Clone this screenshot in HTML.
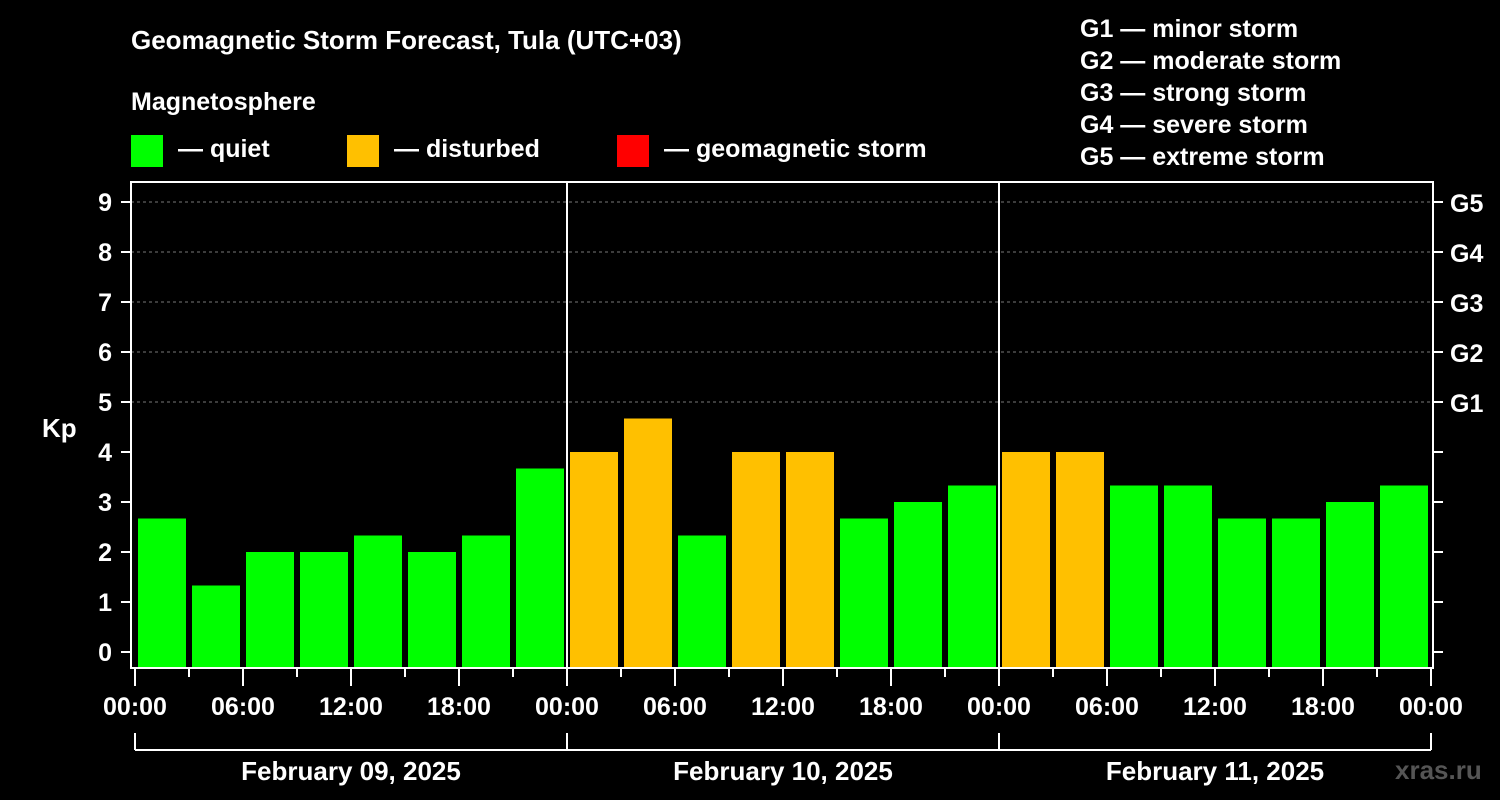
<!DOCTYPE html>
<html><head><meta charset="utf-8"><style>
body{margin:0;background:#000;width:1500px;height:800px;overflow:hidden}
svg{display:block}
text{font-family:"Liberation Sans",Arial,sans-serif;font-weight:bold;fill:#fff}
</style></head><body>
<svg id="c" width="1500" height="800">
<text x="131" y="49" font-size="26">Geomagnetic Storm Forecast, Tula (UTC+03)</text>
<text x="131" y="110" font-size="25">Magnetosphere</text>
<g><rect x="131" y="135" width="32" height="32" fill="#00ff00"/><text x="178" y="157" font-size="25">— quiet</text></g>
<g><rect x="347" y="135" width="32" height="32" fill="#ffc000"/><text x="394" y="157" font-size="25">— disturbed</text></g>
<g><rect x="617" y="135" width="32" height="32" fill="#ff0000"/><text x="664" y="157" font-size="25">— geomagnetic storm</text></g>
<g font-size="25">
<text x="1080" y="37">G1 — minor storm</text>
<text x="1080" y="69">G2 — moderate storm</text>
<text x="1080" y="101">G3 — strong storm</text>
<text x="1080" y="133">G4 — severe storm</text>
<text x="1080" y="165">G5 — extreme storm</text>
</g>
<text x="42" y="437" font-size="26">Kp</text>
<text x="1395" y="779" font-size="26" fill="#555" style="fill:#555">xras.ru</text>
<g id="g"></g>
</svg>
<script>
const kpValues=[2.67,1.33,2,2,2.33,2,2.33,3.67, 4,4.67,2.33,4,4,2.67,3,3.33, 4,4,3.33,3.33,2.67,2.67,3,3.33];
const dayLabels=["February 09, 2025","February 10, 2025","February 11, 2025"];
const yTicks=[0,1,2,3,4,5,6,7,8,9];
const gLabels=["G1","G2","G3","G4","G5"];
const hourLabels=["00:00","06:00","12:00","18:00"];
const NS="http://www.w3.org/2000/svg",g=document.getElementById("g");
const X0=135,DAY=432,L=131,R=1433,T=182,B=668;
const x=h=>X0+h*DAY/24, y=k=>652-50*k;
function el(t,a){const e=document.createElementNS(NS,t);for(const k in a)e.setAttribute(k,a[k]);g.appendChild(e);return e;}
// grid
for(let k=5;k<=9;k++){const e=el("line",{x1:L,x2:R,y1:y(k),y2:y(k),stroke:"#777","stroke-dasharray":"3,3"});

}
// bars
kpValues.forEach((v,i)=>{const c=v>=5?"#ff0000":v>=4?"#ffc000":"#00ff00";
const e=el("rect",{x:x(i*3)+3,y:y(v),width:48,height:B-y(v),fill:c});

});
// day separators
for(let d=1;d<dayLabels.length;d++){const e=el("line",{x1:x(d*24),x2:x(d*24),y1:T,y2:B,stroke:"#fff","stroke-width":2});

}
// frame
const f=el("rect",{x:L,y:T,width:R-L,height:B-T,fill:"none",stroke:"#fff","stroke-width":2});


// y ticks
yTicks.forEach(k=>{el("line",{x1:L-10,x2:L,y1:y(k),y2:y(k),stroke:"#fff","stroke-width":2});
el("line",{x1:R,x2:R+10,y1:y(k),y2:y(k),stroke:"#fff","stroke-width":2});
const t=el("text",{x:112,y:y(k)+9,"font-size":25,"text-anchor":"end"});t.textContent=k;

});
gLabels.forEach((s,i)=>{const t=el("text",{x:1450,y:y(5+i)+10,"font-size":25});t.textContent=s;

});
// x ticks
const nd=dayLabels.length;
for(let h=0;h<=nd*24;h+=3){const maj=h%6===0;el("line",{x1:x(h),x2:x(h),y1:B,y2:B+(maj?18:9),stroke:"#fff","stroke-width":2});
if(maj){const t=el("text",{x:x(h),y:715,"font-size":25,"text-anchor":"middle"});t.textContent=hourLabels[(h/6)%4];

}}
// day brackets
el("line",{x1:x(0),x2:x(nd*24),y1:750,y2:750,stroke:"#fff","stroke-width":2});
for(let d=0;d<=nd;d++)el("line",{x1:x(d*24),x2:x(d*24),y1:733,y2:750,stroke:"#fff","stroke-width":2});
dayLabels.forEach((s,d)=>{const t=el("text",{x:x(d*24+12),y:780,"font-size":26,"text-anchor":"middle"});t.textContent=s;

});
</script>
</body></html>
